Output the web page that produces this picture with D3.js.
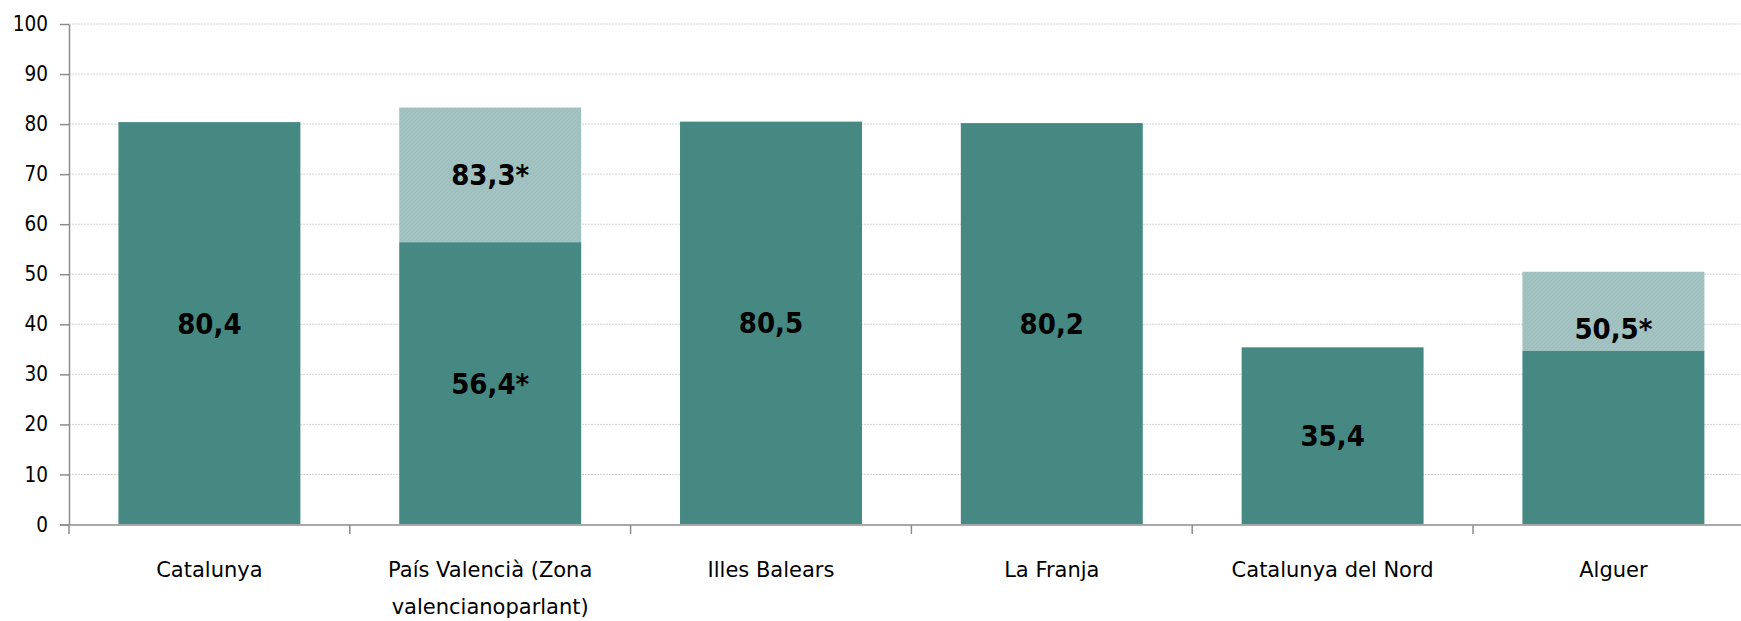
<!DOCTYPE html>
<html>
<head>
<meta charset="utf-8">
<script src="https://cdnjs.cloudflare.com/ajax/libs/d3/7.8.5/d3.min.js"></script>
<style>
  html, body { margin: 0; padding: 0; background: #fff; }
  svg { display: block; }
</style>
</head>
<body>
<div id="chart"></div>
<script>
// categories (label lines as shown under the axis)
var categories = ['Catalunya', 'País Valencià (Zona valencianoparlant)', 'Illes Balears', 'La Franja', 'Catalunya del Nord', 'Alguer'];
var categoryLines = [['Catalunya'], ['País Valencià (Zona', 'valencianoparlant)'], ['Illes Balears'], ['La Franja'], ['Catalunya del Nord'], ['Alguer']];

// dark (base) series and light (upper) series totals
var baseValues = [80.4, 56.4, 80.5, 80.2, 35.4, 34.7];
var totalValues = [null, 83.3, null, null, null, 50.5];
var baseLabels = ['80,4', '56,4*', '80,5', '80,2', '35,4', ''];
var topLabels = ['', '83,3*', '', '', '', '50,5*'];

var yTicks = [0, 10, 20, 30, 40, 50, 60, 70, 80, 90, 100];

function getChart() {
    var attrs = {
        svgWidth: 1741,
        svgHeight: 621,
        marginTop: 24,
        marginLeft: 69,
        plotBottom: 524.5,
        bandStep: 280.8,
        barRatio: 0.648,
        container: '#chart',
        darkColor: '#468983',
        lightColor: '#a2c3c1',
        axisColor: '#8c8c8c',
        gridColor: '#d4d4d4',
        textColor: '#000'
    };

    var calc = {};
    calc.plotRight = attrs.svgWidth;
    calc.bandEnd = attrs.marginLeft + attrs.bandStep * categories.length;

    var svg = d3.select(attrs.container).append('svg')
        .attr('width', attrs.svgWidth)
        .attr('height', attrs.svgHeight);

    // pattern for the light (hatched) segments
    var defs = svg.append('defs');
    var pat = defs.append('pattern')
        .attr('id', 'lightHatch')
        .attr('patternUnits', 'userSpaceOnUse')
        .attr('width', 4).attr('height', 4);
    pat.append('rect').attr('width', 4).attr('height', 4).attr('fill', attrs.lightColor);
    pat.append('path').attr('d', 'M0,4 L4,0 M-1,1 L1,-1 M3,5 L5,3')
        .attr('stroke', '#97b9b7').attr('stroke-width', 0.6);

    var x = d3.scaleBand()
        .domain(categories)
        .range([attrs.marginLeft, calc.bandEnd])
        .paddingInner(1 - attrs.barRatio)
        .paddingOuter((1 - attrs.barRatio) / 2);

    var y = d3.scaleLinear()
        .domain([0, 100])
        .range([attrs.plotBottom, attrs.marginTop]);

    // gridlines
    svg.append('g')
        .selectAll('line')
        .data(yTicks.filter(function (d) { return d > 0; }))
        .enter().append('line')
        .attr('x1', attrs.marginLeft)
        .attr('x2', calc.plotRight)
        .attr('y1', function (d) { return y(d); })
        .attr('y2', function (d) { return y(d); })
        .attr('stroke', attrs.gridColor)
        .attr('stroke-width', 1)
        .attr('stroke-dasharray', '2,1');

    // bars
    var rows = categories.map(function (c, i) {
        return { cat: c, base: baseValues[i], total: totalValues[i], baseLabel: baseLabels[i], topLabel: topLabels[i] };
    });

    var bars = svg.append('g');
    bars.selectAll('rect.top')
        .data(rows.filter(function (d) { return d.total != null; }))
        .enter().append('rect')
        .attr('class', 'top')
        .attr('x', function (d) { return x(d.cat); })
        .attr('width', x.bandwidth())
        .attr('y', function (d) { return y(d.total); })
        .attr('height', function (d) { return y(d.base) - y(d.total); })
        .attr('fill', 'url(#lightHatch)');

    bars.selectAll('rect.base')
        .data(rows)
        .enter().append('rect')
        .attr('class', 'base')
        .attr('x', function (d) { return x(d.cat); })
        .attr('width', x.bandwidth())
        .attr('y', function (d) { return y(d.base); })
        .attr('height', function (d) { return y(0) - 0.5 - y(d.base); })
        .attr('fill', attrs.darkColor);

    // value labels
    var labelFont = "'DejaVu Sans Condensed', 'DejaVu Sans', sans-serif";
    var labelShift = { 'Alguer': 17 };
    var labels = svg.append('g')
        .attr('font-family', labelFont)
        .style('font-stretch', 'condensed')
        .attr('font-weight', 'bold')
        .attr('font-size', 29)
        .attr('fill', attrs.textColor)
        .attr('text-anchor', 'middle');

    labels.selectAll('text.base')
        .data(rows.filter(function (d) { return d.baseLabel; }))
        .enter().append('text')
        .attr('x', function (d) { return x(d.cat) + x.bandwidth() / 2; })
        .attr('y', function (d) { return (y(d.base) + y(0)) / 2; })
        .attr('dy', '0.36em')
        .text(function (d) { return d.baseLabel; });

    labels.selectAll('text.top')
        .data(rows.filter(function (d) { return d.topLabel; }))
        .enter().append('text')
        .attr('x', function (d) { return x(d.cat) + x.bandwidth() / 2; })
        .attr('y', function (d) { return (y(d.base) + y(d.total)) / 2 + (labelShift[d.cat] || 0); })
        .attr('dy', '0.36em')
        .text(function (d) { return d.topLabel; });

    // y axis
    var yAxis = svg.append('g')
        .attr('transform', 'translate(' + attrs.marginLeft + ',0)')
        .call(d3.axisLeft(y).tickValues(yTicks).tickSize(9).tickPadding(12).tickSizeOuter(0));
    yAxis.select('.domain').attr('stroke', attrs.axisColor).attr('stroke-width', 1.5);
    yAxis.selectAll('.tick line').attr('stroke', attrs.axisColor).attr('stroke-width', 1.5);
    yAxis.selectAll('.tick text')
        .attr('font-family', labelFont)
        .style('font-stretch', 'condensed')
        .attr('font-size', 20.5)
        .attr('fill', attrs.textColor);

    // x axis line and tick marks at band boundaries
    var xAxis = svg.append('g');
    xAxis.append('line')
        .attr('x1', attrs.marginLeft - 9)
        .attr('x2', calc.plotRight)
        .attr('y1', y(0) + 0.5)
        .attr('y2', y(0) + 0.5)
        .attr('stroke', attrs.axisColor)
        .attr('stroke-width', 1.5);

    var step = x.step();
    var boundaries = categories.map(function (c) { return x(c) - x.paddingOuter() * step; });
    xAxis.selectAll('line.tk')
        .data(boundaries)
        .enter().append('line')
        .attr('class', 'tk')
        .attr('x1', function (d) { return d; })
        .attr('x2', function (d) { return d; })
        .attr('y1', y(0) + 0.5)
        .attr('y2', y(0) + 9.5)
        .attr('stroke', attrs.axisColor)
        .attr('stroke-width', 1.5);

    // category labels
    var catLabels = xAxis.selectAll('text.cat')
        .data(categories)
        .enter().append('text')
        .attr('class', 'cat')
        .attr('x', function (c) { return x(c) + x.bandwidth() / 2; })
        .attr('y', y(0) + 52.5)
        .attr('text-anchor', 'middle')
        .attr('font-family', "'DejaVu Sans', sans-serif")
        .attr('font-size', 21)
        .attr('fill', attrs.textColor);

    catLabels.each(function (c, i) {
        var t = d3.select(this);
        categoryLines[i].forEach(function (line, j) {
            t.append('tspan')
                .attr('x', x(c) + x.bandwidth() / 2)
                .attr('dy', j === 0 ? 0 : 37)
                .text(line);
        });
    });
}

getChart();
</script>
</body>
</html>
